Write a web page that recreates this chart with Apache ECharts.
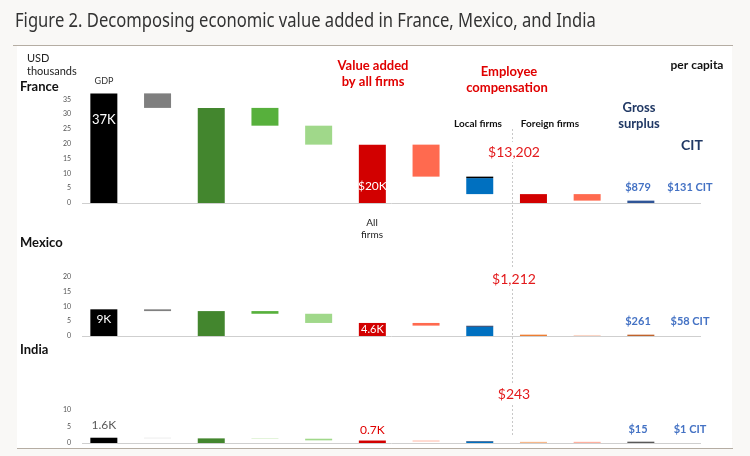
<!DOCTYPE html>
<html><head><meta charset="utf-8">
<script src="https://cdn.jsdelivr.net/npm/echarts@6/dist/echarts.min.js"></script>
<style>html,body{margin:0;padding:0;background:#f9f8f6}#c{width:750px;height:456px}</style>
</head><body><div id="c"></div>
<script>
// ---- data (USD thousands per capita) ----
const categories = ['GDP', 'Less depreciation', 'Net domestic product', 'Less government', 'Less households',
  'All firms', 'Local firms compensation', 'Local firms surplus', 'Foreign firms compensation',
  'Foreign firms surplus', 'Gross surplus', 'CIT'];
const franceLow  = [0, 32.1, 0, 26.1, 19.7, 0, 8.9, 3.0, 0, 0.8, 0, 0];
const franceHigh = [37, 37, 32.1, 32.1, 26.1, 19.7, 19.7, 8.4, 3.0, 3.0, 0.8, 0];
const franceCap  = [0, 0, 0, 0, 0, 0, 0, 0.5, 0, 0, 0, 0];
const mexicoLow  = [0, 8.4, 0, 7.5, 4.4, 0, 3.5, 0, 0, 0, 0, 0];
const mexicoHigh = [9.0, 9.0, 8.4, 8.4, 7.5, 4.4, 4.4, 3.1, 0.45, 0.35, 0.45, 0];
const mexicoCap  = [0, 0, 0, 0, 0, 0, 0, 0.35, 0, 0, 0, 0];
const indiaLow   = [0, 1.4, 0, 1.3, 0.8, 0, 0.4, 0, 0, 0.05, 0, 0];
const indiaHigh  = [1.6, 1.6, 1.4, 1.4, 1.3, 0.75, 0.8, 0.45, 0.35, 0.35, 0.4, 0];
const indiaCap   = [0, 0, 0, 0, 0, 0, 0, 0.15, 0, 0, 0, 0];
const franceBarLabels = ['37K', '', '', '', '', '$20K', '', '', '', '', '', ''];
const mexicoBarLabels = ['9K', '', '', '', '', '4.6K', '', '', '', '', '', ''];
const indiaBarLabels  = ['1.6K', '', '', '', '', '0.7K', '', '', '', '', '', ''];
const empComp = ['$13,202', '$1,212', '$243'];
const surplusLabels = ['$879', '$261', '$15'];
const citLabels = ['$131 CIT', '$58 CIT', '$1 CIT'];
const countries = ['France', 'Mexico', 'India'];

// ---- styles ----
const franceColors = ['#000000', '#7f7f7f', '#43862e', '#57b03c', '#a0d88a', '#d20000', '#ff6a4f', '#0070c0', '#d20000', '#ff6a4f', '#2f5597', '#4472c4'];
const mexicoColors = ['#000000', '#808080', '#43862e', '#57b03c', '#a0d88a', '#d20000', '#ff6a4f', '#0070c0', '#ed7d31', '#fbd5c5', '#c0622a', '#4472c4'];
const indiaColors  = ['#000000', '#e3e3e3', '#43862e', '#a9dc8e', '#a0d88a', '#d20000', '#ffc9bb', '#0070c0', '#f7b88a', '#ffa08c', '#595959', '#4472c4'];
const capColors = ['#000000', '#1f3864', '#1f3864'];
const FONT = 'Lato, "Noto Sans", sans-serif';

const dataSets = [
  {low: franceLow, high: franceHigh, cap: franceCap, colors: franceColors, labels: franceBarLabels},
  {low: mexicoLow, high: mexicoHigh, cap: mexicoCap, colors: mexicoColors, labels: mexicoBarLabels},
  {low: indiaLow, high: indiaHigh, cap: indiaCap, colors: indiaColors, labels: indiaBarLabels}
];
const labelStyle = [
  {0: {position: 'insideTop', distance: 20, color: '#fff', fontSize: 13},
   5: {position: 'insideBottom', distance: 11, color: '#fff', fontSize: 12}},
  {0: {position: 'insideTop', distance: 4, color: '#fff', fontSize: 12},
   5: {position: 'inside', color: '#fff', fontSize: 11}},
  {0: {position: 'top', distance: 7, color: '#595959', fontSize: 12},
   5: {position: 'top', distance: 4, color: '#e00000', fontSize: 12}}
];

const grids = [
  {left: 77, right: 28.6, top: 84.5, height: 118.5},
  {left: 77, right: 28.6, top: 276.7, height: 59.3},
  {left: 77, right: 28.6, top: 410, height: 33}
];
const yMax = [40, 20, 10];

const chart = echarts.init(document.getElementById('c'), null, {renderer: 'canvas'});
const series = [];
dataSets.forEach((d, g) => {
  series.push({type: 'bar', xAxisIndex: g, yAxisIndex: g, stack: 's' + g, barWidth: 27, silent: true,
    itemStyle: {color: 'transparent'}, data: d.low});
  series.push({type: 'bar', xAxisIndex: g, yAxisIndex: g, stack: 's' + g, barWidth: 27,
    data: d.high.map((h, i) => {
      const item = {value: +(h - d.low[i]).toFixed(4), itemStyle: {color: d.colors[i]}};
      if (d.labels[i]) {
        item.label = Object.assign({show: true, formatter: d.labels[i], fontFamily: FONT}, labelStyle[g][i]);
      }
      return item;
    })});
  series.push({type: 'bar', xAxisIndex: g, yAxisIndex: g, stack: 's' + g, barWidth: 27,
    itemStyle: {color: capColors[g]}, data: d.cap});
});

chart.setOption({
  animation: false,
  backgroundColor: '#f9f8f6',
  grid: grids,
  xAxis: grids.map((_, g) => ({type: 'category', gridIndex: g, data: categories,
    axisLine: {show: false}, axisTick: {show: false}, axisLabel: {show: false}})),
  yAxis: grids.map((_, g) => ({type: 'value', gridIndex: g, min: 0, max: yMax[g], interval: 5,
    axisLine: {show: false}, axisTick: {show: false}, splitLine: {show: false},
    axisLabel: {fontSize: 7, color: '#555', margin: 6, fontFamily: FONT, showMaxLabel: g !== 0}})),
  series: series
});

const zeroY = [0, 1, 2].map(g => chart.convertToPixel({yAxisIndex: g}, 0));
function txt(text, x, y, o) {
  return {type: 'text', x: x, y: y, z: 50, style: Object.assign({text: text, fill: '#222', fontFamily: FONT,
    fontSize: 11, align: 'center', verticalAlign: 'middle'}, o || {})};
}
const red = '#e00000', navy = '#203864', blue = '#4472c4';
const title = txt('Figure 2. Decomposing economic value added in France, Mexico, and India', 15, 21,
    {align: 'left', fontSize: 20, fill: '#333', fontFamily: '"Noto Sans", sans-serif'});
title.scaleX = 0.83;
const g = [
  {type: 'rect', z: -10, shape: {x: 17, y: 46, width: 715, height: 402}, style: {fill: '#ffffff'}},
  {type: 'line', z: 5, shape: {x1: 13, y1: 45.5, x2: 733, y2: 45.5}, style: {stroke: '#b5ada3', lineWidth: 1}},
  {type: 'line', z: 5, shape: {x1: 17, y1: 448.5, x2: 733, y2: 448.5}, style: {stroke: '#b5ada3', lineWidth: 1}},
  {type: 'line', z: 1, shape: {x1: 512.5, y1: 129, x2: 512.5, y2: 437}, style: {stroke: '#c8c8c8', lineWidth: 1, lineDash: [2, 2]}},
  title,
  txt('USD', 27, 58, {align: 'left', fontSize: 11}),
  txt('thousands', 27, 71, {align: 'left', fontSize: 11}),
  txt('GDP', 104, 81, {fontSize: 9, fill: '#333'}),
  txt('Value added', 373, 66, {fontSize: 13, fontWeight: 'bold', fill: red}),
  txt('by all firms', 373, 82, {fontSize: 13, fontWeight: 'bold', fill: red}),
  txt('Employee', 509, 72, {fontSize: 13, fontWeight: 'bold', fill: red}),
  txt('compensation', 507, 88, {fontSize: 13, fontWeight: 'bold', fill: red}),
  txt('per capita', 697, 65, {fontSize: 12, fontWeight: 'bold', fill: '#111'}),
  txt('Gross', 639, 108, {fontSize: 13, fontWeight: 'bold', fill: navy}),
  txt('surplus', 639, 124, {fontSize: 13, fontWeight: 'bold', fill: navy}),
  txt('CIT', 692, 145, {fontSize: 14, fontWeight: 'bold', fill: navy}),
  txt('Local firms', 478, 124, {fontSize: 10, fontWeight: 'bold', fill: '#111'}),
  txt('Foreign firms', 550, 124, {fontSize: 10, fontWeight: 'bold', fill: '#111'}),
  txt('All', 372, 223, {fontSize: 10, fill: '#222'}),
  txt('firms', 372, 235, {fontSize: 10, fill: '#222'})
];
const titleY = [87, 243, 350];
const empY = [152, 279, 394];
const surpY = [187, 321, 429];
countries.forEach((c, i) => {
  g.push(txt(c, 20, titleY[i], {align: 'left', fontSize: 13, fontWeight: 'bold', fill: '#111'}));
  g.push(txt(empComp[i], 514, empY[i], {fontSize: 14, fill: '#e31a1c', backgroundColor: '#fff', padding: [3, 6]}));
  g.push(txt(surplusLabels[i], 638, surpY[i], {fontSize: 11, fontWeight: 'bold', fill: blue}));
  g.push(txt(citLabels[i], 690, surpY[i], {fontSize: 11, fontWeight: 'bold', fill: blue}));
  g.push({type: 'line', z: 1, shape: {x1: 82, y1: Math.round(zeroY[i]) + 0.5, x2: 701, y2: Math.round(zeroY[i]) + 0.5},
    style: {stroke: '#cfcfcf', lineWidth: 1}});
});
chart.setOption({graphic: {elements: g}});
</script></body></html>
